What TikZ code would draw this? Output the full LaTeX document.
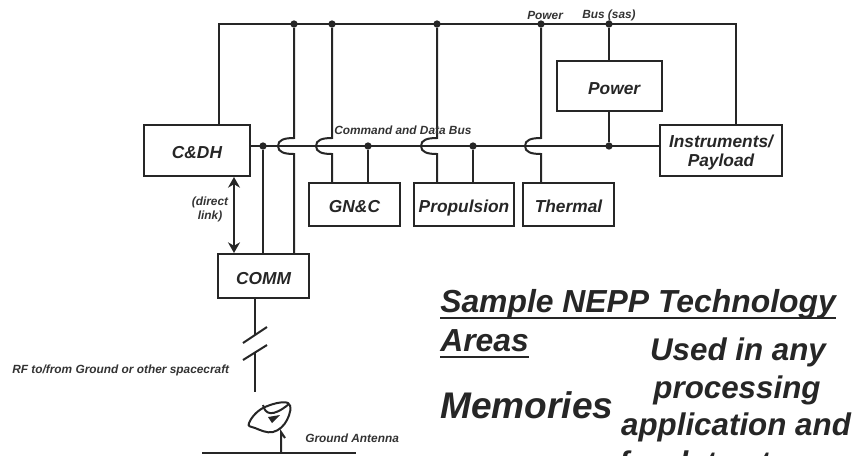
\documentclass[tikz,border=0pt]{standalone}
\usepackage{fontspec}
\setmainfont{Liberation Sans}
\usetikzlibrary{arrows.meta}
\tikzset{
  wire/.style={line width=1.5pt,color=black!85},
  boxn/.style={draw=black!85,line width=1.5pt,anchor=north west,inner sep=0pt,align=center,font=\bfseries\itshape\fontsize{13}{14.5}\selectfont,text=black!85},
  oneline/.style={text height=12pt,text depth=0pt},
  dotn/.style={circle,fill=black!85,inner sep=0pt,minimum size=5.5pt},
  small/.style={font=\bfseries\itshape\fontsize{8.9}{10.5}\selectfont,inner sep=0pt,text=black!80,align=center},
  big/.style={font=\bfseries\itshape\fontsize{23.9}{28}\selectfont,inner sep=0pt,text=black!85,anchor=base west},
  used/.style={font=\bfseries\itshape\fontsize{23.5}{28}\selectfont,inner sep=0pt,text=black!85,anchor=base}
}
\newcommand{\bx}[7][]{\node[boxn,minimum width=#5*0.75pt,minimum height=#6*0.75pt,#1] (#2) at (#3,#4) {#7};}
\begin{document}
\begin{tikzpicture}[x=0.75pt,y=-0.75pt]
\useasboundingbox (0,0) rectangle (853,455);
\bx[oneline]{cdh}{143}{124}{106}{51}{C\&DH}
\bx{inst}{659}{124}{122}{51}{\rule{0pt}{12.3pt}Instruments/\\Payload}
\bx[oneline]{pow}{556}{60}{105}{50}{\hspace{7pt}Power}
\bx[oneline]{gnc}{308}{182}{91}{43}{GN\&C}
\bx[oneline]{prop}{413}{182}{100}{43}{Propulsion}
\bx[oneline]{therm}{522}{182}{91}{43}{Thermal}
\bx[oneline]{comm}{217}{253}{91}{44}{COMM}
% named junctions
\foreach \n/\x in {ja/294,jb/332,jc/437,jd/541,je/609}{\node[dotn] (\n) at (\x,24) {};}
\foreach \n/\x in {da/263,db/368,dc/473,dd/609}{\node[dotn] (\n) at (\x,146) {};}
\coordinate (tl) at (219,24);
\coordinate (tr) at (736,24);
% power bus
\draw[wire] (cdh.north -| tl) -- (tl) -- (tr) -- (inst.north -| tr);
% data bus
\draw[wire] (cdh.east |- da) -- (inst.west |- da);
\draw[wire] (je) -- (pow.north -| je);
\draw[wire] (pow.south -| dd) -- (dd);
% stubs from data bus
\draw[wire] (da) -- (comm.north -| da);
\draw[wire] (db) -- (gnc.north -| db);
\draw[wire] (dc) -- (prop.north -| dc);
% hopping verticals
\draw[wire] (ja) -- (294,138) .. controls (284,138) and (278,140) .. (278,146) .. controls (278,152) and (284,154) .. (294,154) -- (comm.north -| ja);
\draw[wire] (jb) -- (332,138) .. controls (322,138) and (316,140) .. (316,146) .. controls (316,152) and (322,154) .. (332,154) -- (gnc.north -| jb);
\draw[wire] (jc) -- (437,138) .. controls (427,138) and (421,140) .. (421,146) .. controls (421,152) and (427,154) .. (437,154) -- (prop.north -| jc);
\draw[wire] (jd) -- (541,138) .. controls (531,138) and (525,140) .. (525,146) .. controls (525,152) and (531,154) .. (541,154) -- (therm.north -| jd);
% direct link
\coordinate (lk) at (234,200);
\draw[wire,{Stealth[length=8pt,width=9pt]}-{Stealth[length=8pt,width=9pt]}] (cdh.south -| lk) -- (comm.north -| lk);
\node[small] (dl) at (210,209.5) {(direct\\link)};
% RF link
\coordinate (r1) at (255,335);
\coordinate (r2) at (255,352);
\coordinate (r3) at (255,392);
\coordinate (s1a) at (243,343);\coordinate (s1b) at (267,327);
\coordinate (s2a) at (243,360);\coordinate (s2b) at (267,345);
\draw[wire] (comm.south -| r1) -- (r1);
\draw[wire] (s1a) -- (s1b);
\draw[wire] (s2a) -- (s2b);
\draw[wire] (r2) -- (r3);
% antenna
\coordinate (gl) at (202,453);\coordinate (gr) at (356,453);
\coordinate (ma) at (281,453);\coordinate (mb) at (281,432);
\draw[line width=2pt,color=black!85] (gl) -- (gr);
\draw[wire] (ma) -- (mb) -- (285,438);
\draw[wire] plot[smooth cycle,tension=0.7] coordinates {(249,423) (263,408) (288,403) (287,420) (273,432) (255,428)};
\draw[wire] (263,405) .. controls (265,414) and (272,418) .. (289,404);
\fill[black!85] (268,417) -- (280,415) -- (272,423) -- cycle;
% labels
\node[small,anchor=west] (cmd) at (334,130) {Command and Data Bus};
\node[small,anchor=west] (pw) at (527,15.5) {Power};
\node[small,anchor=west] (bs) at (582,15.5) {Bus (sas)};
\node[small,anchor=west] (rf) at (12,370) {RF to/from Ground or other spacecraft};
\node[small,anchor=west] (ga) at (305,438) {Ground Antenna};
% big text
\node[big] (t1) at (440,312) {Sample NEPP Technology};
\node[big] (t2) at (440,351) {Areas};
\draw[line width=2pt,color=black!85] ([yshift=-4.5pt]t1.base west) -- ([yshift=-4.5pt]t1.base east);
\draw[line width=2pt,color=black!85] ([yshift=-4.5pt]t2.base west) -- ([yshift=-4.5pt]t2.base east);
\node[big,font=\bfseries\itshape\fontsize{27.8}{32}\selectfont] (mem) at (440,418) {Memories};
\node[used] (u1) at (738,360) {Used in any};
\node[used] (u2) at (737,398) {processing};
\node[used] (u3) at (736,435) {application and};
\node[used] (u4) at (737,473) {for data storage};
\end{tikzpicture}
\end{document}
